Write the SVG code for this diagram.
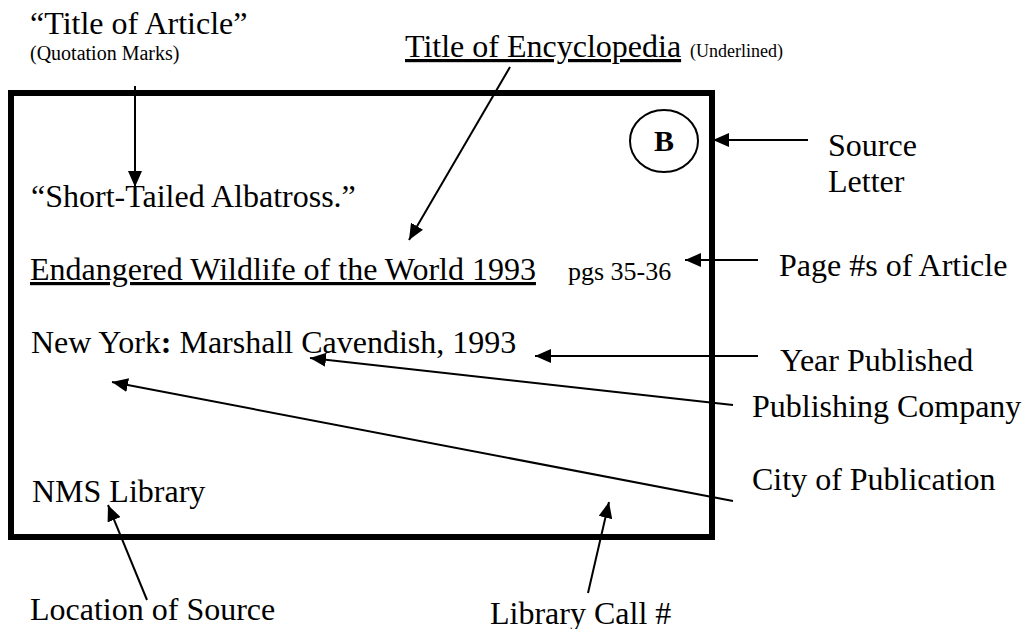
<svg xmlns="http://www.w3.org/2000/svg" width="1024" height="629" viewBox="0 0 1024 629">
<defs>
<marker id="ah" markerUnits="userSpaceOnUse" markerWidth="16" markerHeight="14" refX="16" refY="7" orient="auto">
<path d="M0,0 L16,7 L0,14 z" fill="#000"/>
</marker>
<style>
text{font-family:"Liberation Serif","Times New Roman",serif;fill:#000;font-size:32px}
.sm{font-size:20px}
.pg{font-size:26px}
.u{text-decoration:underline}
.c{stroke:#000;stroke-width:2;fill:none;marker-end:url(#ah)}
</style>
</defs>
<rect width="1024" height="629" fill="#fff"/>
<g id="card">
<rect x="11" y="93" width="701" height="444" fill="none" stroke="#000" stroke-width="6"/>
</g>
<g id="source-letter-mark">
<ellipse cx="664" cy="141" rx="34" ry="31" fill="none" stroke="#000" stroke-width="2"/>
<text x="664" y="151" text-anchor="middle" font-weight="bold" style="font-size:30px">B</text>
</g>
<g id="card-text">
<text x="31" y="207">“Short-Tailed Albatross.”</text>
<text x="30" y="280" class="u">Endangered Wildlife of the World 1993</text>
<text x="568" y="280" class="pg">pgs 35-36</text>
<text x="31" y="353">New York<tspan font-weight="bold">:</tspan> Marshall Cavendish, 1993</text>
<text x="32" y="502">NMS Library</text>
</g>
<g id="label-title-article">
<text x="30" y="34">“Title of Article”</text>
<text x="30" y="60" class="sm">(Quotation Marks)</text>
</g>
<g id="label-title-encyclopedia">
<text x="405" y="57" class="u">Title of Encyclopedia</text>
<text x="690" y="57" style="font-size:18px">(Underlined)</text>
</g>
<g id="label-source-letter">
<text x="828" y="156">Source</text>
<text x="828" y="192">Letter</text>
</g>
<g id="label-page"><text x="779" y="276">Page #s of Article</text></g>
<g id="label-year"><text x="780" y="371">Year Published</text></g>
<g id="label-company"><text x="752" y="417">Publishing Company</text></g>
<g id="label-city"><text x="752" y="490">City of Publication</text></g>
<g id="label-location"><text x="30" y="620">Location of Source</text></g>
<g id="label-call"><text x="490" y="624">Library Call #</text></g>
<g id="connectors">
<line class="c" x1="135" y1="86" x2="135" y2="187"/>
<line class="c" x1="510" y1="67" x2="409" y2="240"/>
<line class="c" x1="808" y1="140" x2="713" y2="140"/>
<line class="c" x1="758" y1="260" x2="685" y2="260"/>
<line class="c" x1="758" y1="356" x2="535" y2="356"/>
<line class="c" x1="733" y1="405" x2="310" y2="358"/>
<line class="c" x1="733" y1="501" x2="112" y2="382"/>
<line class="c" x1="147" y1="600" x2="108" y2="505"/>
<line class="c" x1="588" y1="593" x2="609" y2="502"/>
</g>
</svg>
